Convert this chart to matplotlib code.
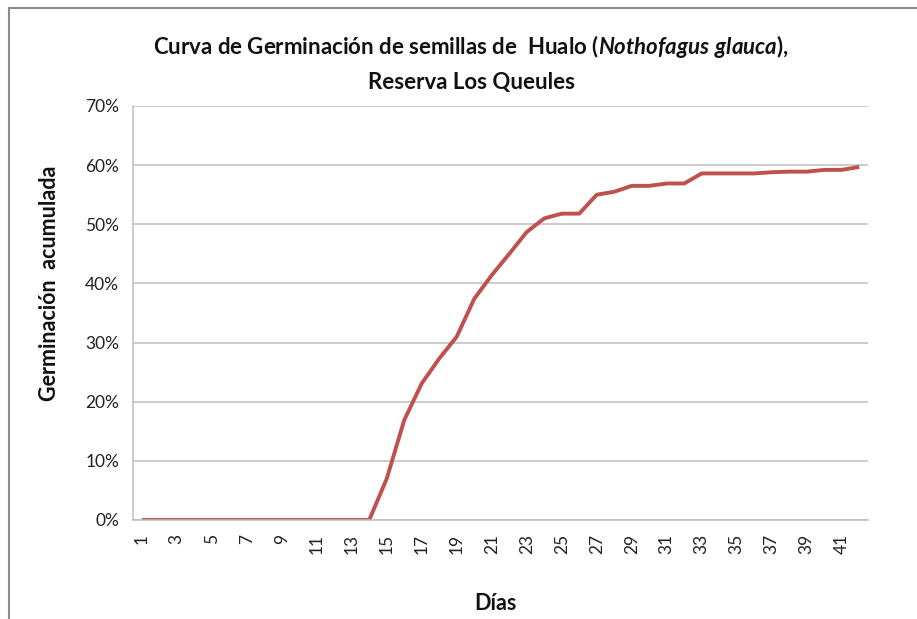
import numpy as np
import matplotlib
matplotlib.use('Agg')
import matplotlib.pyplot as plt
from matplotlib.ticker import PercentFormatter
from matplotlib.patches import Rectangle

##### data
dias = list(range(1, 43))
germinacion = [0, 0, 0, 0, 0, 0, 0, 0, 0, 0, 0, 0, 0, 0,
               7.0, 16.9, 23.1, 27.3, 31.0, 37.4, 41.4, 45.0, 48.7, 51.0,
               51.8, 51.8, 55.0, 55.5, 56.5, 56.5, 56.9, 56.9, 58.6, 58.6,
               58.6, 58.6, 58.8, 58.9, 58.9, 59.2, 59.2, 59.7]
etiquetas_x = [str(d) if d % 2 == 1 else '' for d in dias]

plt.rcParams['font.family'] = ['Lato', 'DejaVu Sans']
plt.rcParams['mathtext.fontset'] = 'custom'
plt.rcParams['mathtext.it'] = 'Lato:italic:bold'
plt.rcParams['mathtext.rm'] = 'Lato:bold'
plt.rcParams['mathtext.bf'] = 'Lato:bold'

##### plotting
fig = plt.figure(figsize=(9.17, 6.19), dpi=100)
fig.patches.append(Rectangle((9/917, -0.1), 1.2, (1 - 8/619) + 0.1,
                             transform=fig.transFigure, fill=False,
                             edgecolor='#8c8c8c', linewidth=1.5))

ax = fig.add_axes([133/917, 99/619, 735/917, 414/619])
ax.plot(dias, germinacion, color='#C0504D', linewidth=2.8, solid_capstyle='butt')

ax.set_xlim(0.5, 42.5)
ax.set_ylim(0, 70)
ax.set_yticks(np.arange(0, 71, 10))
ax.yaxis.set_major_formatter(PercentFormatter(decimals=0))
ax.set_xticks(dias)
ax.set_xticklabels(etiquetas_x, rotation=90)
ax.tick_params(axis='both', length=0, labelsize=12.5, colors='#222222')
ax.tick_params(axis='x', pad=10)
ax.tick_params(axis='y', pad=10)

ax.grid(axis='y', color='#BEBEBE', linewidth=1.1)
ax.set_axisbelow(True)
for s in ['top', 'right']:
    ax.spines[s].set_visible(False)
for s in ['left', 'bottom']:
    ax.spines[s].set_color('#BEBEBE')
    ax.spines[s].set_linewidth(1.1)

fig.text(50/917, 1 - 283/619, 'Germinación  acumulada', rotation=90,
         ha='center', va='center', fontsize=15.5, fontweight='bold', color='#111111')
fig.text(495/917, 1 - 604/619, 'Días', ha='center', va='center',
         fontsize=15.5, fontweight='bold', color='#111111')

fig.text(471/917, 1 - 47/619,
         r'Curva de Germinación de semillas de  Hualo ($\it{Nothofagus\ glauca)}$,',
         ha='center', va='center', fontsize=16, fontweight='bold', color='#111111')
fig.text(471/917, 1 - 82/619, 'Reserva Los Queules', ha='center', va='center',
         fontsize=16, fontweight='bold', color='#111111')

plt.savefig('out.png', dpi=100)
